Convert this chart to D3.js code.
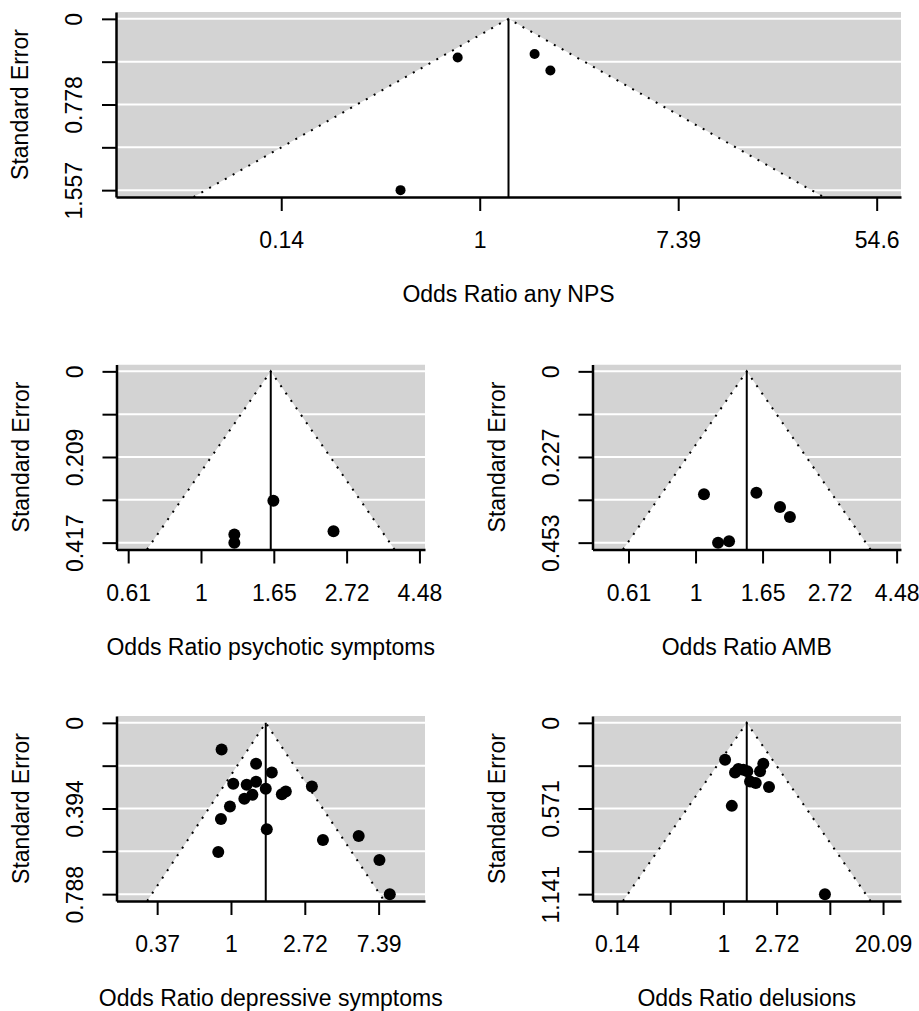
<!DOCTYPE html>
<html>
<head>
<meta charset="utf-8">
<script src="https://cdn.jsdelivr.net/npm/d3@7"></script>
<style>
  html, body { margin: 0; padding: 0; background: #fff; }
  svg { display: block; font-family: "Liberation Sans", Arial, Helvetica, sans-serif; }
</style>
</head>
<body>
<svg id="chart" width="919" height="1011"></svg>
<script>
// Funnel plots (metafor style): log odds ratio on x, standard error on y (reversed).

var titles = [
  "Odds Ratio any NPS",
  "Odds Ratio psychotic symptoms",
  "Odds Ratio AMB",
  "Odds Ratio depressive symptoms",
  "Odds Ratio delusions"
];
// pooled estimates (log OR), read off the funnel apex
var pooled = [0.29, 0.479, 0.382, 0.471, 0.439];

var npsLogOR = [-0.222, 0.553, 0.712, -0.798];
var npsSE    = [0.351, 0.319, 0.469, 1.557];

var psyLogOR = [0.497, 0.229, 0.229, 0.910];
var psySE    = [0.315, 0.397, 0.417, 0.389];

var ambLogOR = [0.063, 0.454, 0.630, 0.704, 0.168, 0.250];
var ambSE    = [0.325, 0.321, 0.359, 0.385, 0.453, 0.449];

var depLogOR = [-0.127, 0.340, 0.553, 0.031, 0.213, 0.340, 0.471, 0.290, 0.181, 0.689,
                0.743, 1.096, -0.014, -0.136, 0.485, 1.246, 1.730, -0.172, 2.011, 2.151];
var depSE    = [0.123, 0.188, 0.228, 0.280, 0.285, 0.271, 0.303, 0.331, 0.349, 0.328,
                0.316, 0.293, 0.385, 0.442, 0.489, 0.539, 0.520, 0.594, 0.631, 0.788];

var delLogOR = [0.032, 0.219, 0.282, 0.375, 0.450, 0.501, 0.608, 0.689, 0.750, 0.857, 0.158, 1.908];
var delSE    = [0.245, 0.330, 0.307, 0.312, 0.323, 0.390, 0.401, 0.323, 0.272, 0.428, 0.553, 1.141];

var xTickValues = [
  [-2, 0, 2, 4],
  [-0.5, 0, 0.5, 1, 1.5],
  [-0.5, 0, 0.5, 1, 1.5],
  [-1, 0, 1, 2],
  [-2, -1, 0, 1, 2, 3]
];
var xTickLabels = [
  ["0.14", "1", "7.39", "54.6"],
  ["0.61", "1", "1.65", "2.72", "4.48"],
  ["0.61", "1", "1.65", "2.72", "4.48"],
  ["0.37", "1", "2.72", "7.39"],
  ["0.14", "", "1", "2.72", "", "20.09"]
];
var yTickLabels = [
  ["0", "", "0.778", "", "1.557"],
  ["0", "", "0.209", "", "0.417"],
  ["0", "", "0.227", "", "0.453"],
  ["0", "", "0.394", "", "0.788"],
  ["0", "", "0.571", "", "1.141"]
];

var series = [
  { yi: npsLogOR, se: npsSE },
  { yi: psyLogOR, se: psySE },
  { yi: ambLogOR, se: ambSE },
  { yi: depLogOR, se: depSE },
  { yi: delLogOR, se: delSE }
];

// plot regions (par("usr") boxes) and point radius
var regions = [
  { x0: 116,   x1: 901, y0: 12,    y1: 197,   r: 5 },
  { x0: 116.5, x1: 425, y0: 364.5, y1: 549.5, r: 6 },
  { x0: 592.5, x1: 901, y0: 364.5, y1: 549.5, r: 6 },
  { x0: 116.5, x1: 425, y0: 716,   y1: 901,   r: 6 },
  { x0: 592.5, x1: 901, y0: 716,   y1: 901,   r: 6 }
];

var svg = d3.select("#chart");
var FS = 23;
var z = 1.96;

series.forEach(function (s, i) {
  var reg = regions[i];
  var est = pooled[i];
  var m = d3.max(s.se);

  // metafor default xlim: funnel bottom / data range, +10% each side, then 4% axis extension
  var lo = Math.min(est - z * m, d3.min(s.yi));
  var hi = Math.max(est + z * m, d3.max(s.yi));
  var pad = (hi - lo) * 0.1;
  lo -= pad; hi += pad;
  var ext = (hi - lo) * 0.04;
  var x = d3.scaleLinear().domain([lo - ext, hi + ext]).range([reg.x0, reg.x1]);
  var y = d3.scaleLinear().domain([-0.04 * m, 1.04 * m]).range([reg.y0, reg.y1]);
  var seBot = 1.04 * m;
  var yTicks = d3.range(5).map(function (k) { return m * k / 4; });

  var g = svg.append("g").attr("class", "panel");
  var clipId = "clip" + i;
  g.append("clipPath").attr("id", clipId).append("rect")
    .attr("x", reg.x0).attr("y", reg.y0)
    .attr("width", reg.x1 - reg.x0).attr("height", reg.y1 - reg.y0);
  var body = g.append("g").attr("clip-path", "url(#" + clipId + ")");

  // grey background
  body.append("rect")
    .attr("x", reg.x0).attr("y", reg.y0)
    .attr("width", reg.x1 - reg.x0).attr("height", reg.y1 - reg.y0)
    .attr("fill", "#d3d3d3");

  // white horizontal grid at y ticks
  body.selectAll("line.grid").data(yTicks).enter().append("line")
    .attr("class", "grid")
    .attr("x1", reg.x0).attr("x2", reg.x1)
    .attr("y1", function (d) { return y(d); }).attr("y2", function (d) { return y(d); })
    .attr("stroke", "#fff").attr("stroke-width", 2);

  // white funnel region
  var tri = [[est - z * seBot, seBot], [est, 0], [est + z * seBot, seBot]];
  body.append("path")
    .attr("d", d3.line().x(function (d) { return x(d[0]); }).y(function (d) { return y(d[1]); })(tri) + "Z")
    .attr("fill", "#fff");

  // dotted pseudo-confidence limits
  body.append("path")
    .attr("d", d3.line().x(function (d) { return x(d[0]); }).y(function (d) { return y(d[1]); })(tri))
    .attr("fill", "none").attr("stroke", "#000")
    .attr("stroke-width", 2).attr("stroke-dasharray", "2,7");

  // reference line at pooled estimate
  body.append("line")
    .attr("x1", x(est)).attr("x2", x(est))
    .attr("y1", y(0)).attr("y2", y(seBot))
    .attr("stroke", "#000").attr("stroke-width", 2);

  // studies
  g.selectAll("circle.pt").data(d3.range(s.yi.length)).enter().append("circle")
    .attr("class", "pt")
    .attr("cx", function (k) { return x(s.yi[k]); })
    .attr("cy", function (k) { return y(s.se[k]); })
    .attr("r", reg.r)
    .attr("fill", "#000");

  // x axis
  var xa = g.append("g").attr("transform", "translate(0," + reg.y1 + ")")
    .call(d3.axisBottom(x)
      .tickValues(xTickValues[i])
      .tickFormat(function (d, k) { return xTickLabels[i][k]; })
      .tickSize(14).tickSizeOuter(0));
  xa.select(".domain").attr("stroke-width", 2.5);
  xa.selectAll(".tick line").attr("stroke-width", 2);
  xa.selectAll(".tick text")
    .attr("y", 51).attr("dy", null)
    .attr("font-size", FS).attr("font-family", null).attr("fill", "#000");

  // y axis
  var ya = g.append("g").attr("transform", "translate(" + reg.x0 + ",0)")
    .call(d3.axisLeft(y)
      .tickValues(yTicks)
      .tickFormat(function (d, k) { return yTickLabels[i][k]; })
      .tickSize(14).tickSizeOuter(0));
  ya.select(".domain").attr("stroke-width", 2.5);
  ya.selectAll(".tick line").attr("stroke-width", 2);
  ya.selectAll(".tick text")
    .attr("x", 0).attr("y", -34).attr("dy", null)
    .attr("transform", "rotate(-90)")
    .attr("text-anchor", "middle")
    .attr("font-size", FS).attr("font-family", null).attr("fill", "#000");

  // axis titles
  g.append("text")
    .attr("x", (reg.x0 + reg.x1) / 2).attr("y", reg.y1 + 105)
    .attr("text-anchor", "middle").attr("font-size", FS)
    .text(titles[i]);
  g.append("text")
    .attr("transform", "translate(" + (reg.x0 - 88) + "," + ((reg.y0 + reg.y1) / 2) + ") rotate(-90)")
    .attr("text-anchor", "middle").attr("font-size", FS)
    .text("Standard Error");
});
</script>
</body>
</html>
